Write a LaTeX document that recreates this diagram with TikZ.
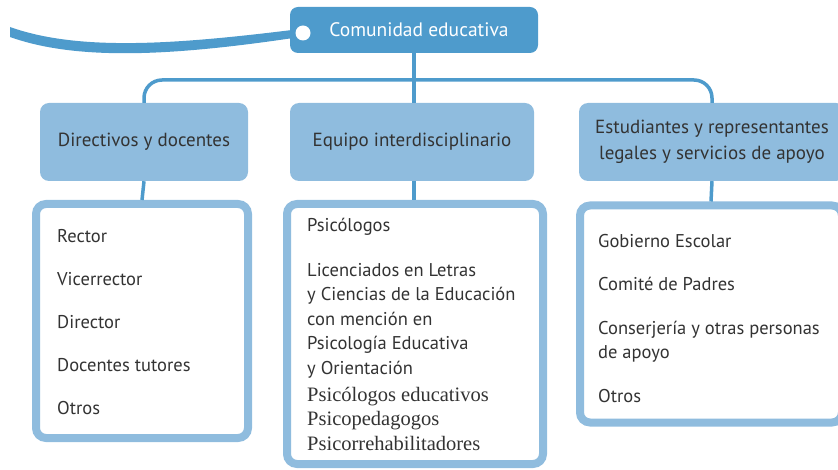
\documentclass[tikz,border=0pt]{standalone}
\usepackage{fontspec}
\setmainfont{PT Sans}
\newfontfamily\romanpart{Liberation Serif}
\usepackage{tikz}
\usetikzlibrary{positioning}

\definecolor{darkblue}{HTML}{4E9BCC}
\definecolor{lightblue}{HTML}{8FBCDE}
\definecolor{textgray}{HTML}{333333}

\tikzset{
  topbox/.style={fill=darkblue, text=white, rounded corners=8pt, minimum width=248pt,
    minimum height=46pt, font=\fontsize{19.5}{22}\selectfont},
  headbox/.style={fill=lightblue, text=textgray, rounded corners=9pt, minimum height=78pt,
    align=center, font=\fontsize{19}{26}\selectfont},
  listbox/.style={draw=lightblue, line width=8pt, fill=white, rounded corners=10pt},
  listtext/.style={text=textgray, align=left, anchor=north west, inner sep=0pt,
    font=\fontsize{18.5}{24.5}\selectfont},
  conn/.style={draw=darkblue, line width=3.5pt},
}

\begin{document}
\begin{tikzpicture}[x=1pt, y=-1pt]
      \clip (0,0) rectangle (838,470);

      \node[topbox] (top) at (414,30) {\hspace*{10pt}Comunidad educativa};

      % swoosh on the left
      \fill[darkblue] (10,27) .. controls (80,52) and (180,44) .. (300,29)
        -- (300,37) .. controls (180,55) and (80,62) .. (10,37) -- cycle;
      \node[circle, fill=white, minimum size=15pt, inner sep=0pt] (knob) at (303,33) {};

      \coordinate (bar) at (0,80);

      % headers
      \node[headbox, minimum width=208pt] (dir) at (144,142) {Directivos y docentes};
      \node[headbox, minimum width=244pt] (equ) at (412,142) {Equipo interdisciplinario};
      \node[headbox, minimum width=266pt] (est) at (712,142)
        {Estudiantes y representantes\\legales y servicios de apoyo};

      \draw[conn, rounded corners=18pt] (dir.north) -- (dir.north |- bar)
        -- (est.north |- bar) -- (est.north);
      \draw[conn] (top.south) -- (top.south |- equ.north);

      % lists
      \node[listbox, minimum width=212pt, minimum height=234pt] (dirlist) at (142,321) {};
      \node[listbox, minimum width=256pt, minimum height=260pt] (equlist) at (415,334) {};
      \node[listbox, minimum width=262pt, minimum height=217pt] (estlist) at (711,314) {};

      \draw[conn] (dir.south) -- (dirlist.north);
      \draw[conn] (equ.south -| top.south) -- (equlist.north -| top.south);
      \draw[conn] (est.south) -- (estlist.north);

      \node[listtext] (dirtext) at (57,229)
        {Rector\\[18.5pt] Vicerrector\\[18.5pt] Director\\[18.5pt] Docentes tutores\\[18.5pt] Otros};
      \node[listtext] (equtext) at (307,218)
        {Psicólogos\\[20pt] Licenciados en Letras\\ y Ciencias de la Educación\\ con mención en\\
         Psicología Educativa\\ y Orientación\\[2.5pt]
         {\romanpart\fontsize{20.5}{24.5}\selectfont Psicólogos educativos}\\
         {\romanpart\fontsize{20.5}{24.5}\selectfont Psicopedagogos}\\
         {\romanpart\fontsize{20.5}{24.5}\selectfont Psicorrehabilitadores}};
      \node[listtext] (esttext) at (598,234)
        {Gobierno Escolar\\[19pt] Comité de Padres\\[19pt] Conserjería y otras personas\\
         de apoyo\\[19pt] Otros};

    \end{tikzpicture}
\end{document}
